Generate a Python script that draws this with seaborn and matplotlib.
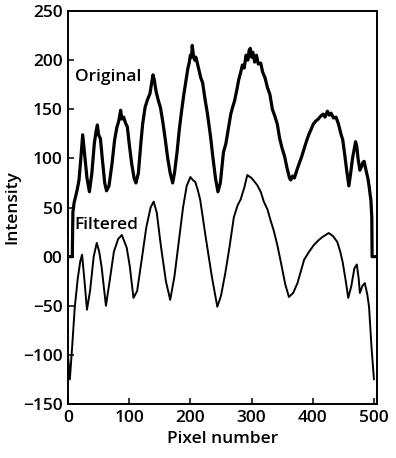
import matplotlib
matplotlib.use("Agg")
import matplotlib.pyplot as plt
import seaborn as sns
import pandas as pd

# Original (noisy) profile
orig_x = [0, 7, 8, 10, 12, 15, 18, 21, 24, 27, 31, 35, 39, 43, 46, 48, 50, 53, 56, 60, 63, 67, 72, 76, 80, 83, 86, 88, 91, 94, 97, 100, 104, 108, 111, 115, 119, 122, 126, 130, 134, 137, 139, 141, 144, 148, 151, 155, 159, 163, 167, 171, 174, 178, 182, 186, 190, 193, 196, 198, 200, 202, 203, 205, 207, 209, 211, 214, 217, 220, 224, 228, 233, 237, 241, 245, 249, 254, 258, 262, 266, 269, 272, 276, 279, 282, 285, 288, 291, 294, 296, 298, 300, 302, 305, 308, 311, 315, 318, 322, 326, 330, 334, 338, 342, 346, 350, 354, 358, 362, 364, 367, 370, 374, 378, 382, 386, 390, 394, 397, 401, 405, 409, 413, 417, 420, 424, 427, 430, 434, 438, 442, 446, 449, 452, 455, 459, 462, 465, 468, 470, 472, 474, 477, 480, 482, 484, 487, 490, 492, 494, 495, 496, 496.5, 497, 503]
orig_y = [0, 0, 45, 55, 60, 68, 78, 100, 124, 105, 80, 66, 85, 115, 128, 134, 124, 120, 100, 75, 67, 72, 95, 118, 132, 138, 149, 140, 142, 136, 132, 115, 95, 80, 75, 85, 115, 135, 152, 160, 166, 178, 185, 180, 168, 158, 152, 137, 119, 100, 85, 75, 85, 105, 130, 150, 168, 180, 192, 197, 205, 203, 215, 205, 200, 203, 198, 190, 182, 177, 160, 145, 122, 100, 80, 66, 75, 106, 115, 130, 145, 152, 158, 170, 180, 187, 195, 192, 205, 200, 210, 212, 203, 208, 198, 205, 196, 197, 188, 182, 172, 165, 150, 143, 135, 120, 110, 102, 90, 80, 78, 82, 80, 88, 95, 102, 110, 118, 125, 129, 135, 138, 140, 143, 145, 142, 148, 144, 146, 141, 142, 135, 125, 119, 105, 90, 72, 85, 100, 110, 117, 112, 100, 88, 92, 96, 97, 88, 80, 72, 62, 58, 45, 40, 0, 0]

# Filtered (smooth) profile
filt_x = [0, 3, 7, 11, 16, 20, 23, 27, 31, 36, 42, 47, 51, 55, 62, 68, 75, 82, 88, 96, 101, 107, 113, 120, 128, 135, 140, 145, 152, 160, 167, 174, 181, 188, 194, 200, 204, 208, 212, 216, 225, 235, 244, 250, 257, 264, 271, 277, 282, 288, 293, 300, 309, 315, 320, 326, 331, 336, 342, 348, 355, 361, 368, 375, 386, 394, 402, 410, 416, 421, 426, 433, 440, 445, 449, 454, 458, 463, 468, 472, 475, 477, 481, 485, 489, 492, 496, 500]
filt_y = [-100, -125, -90, -52, -22, -5, 2, -25, -54, -35, 0, 14, 5, -11, -50, -25, 5, 18, 22, 9, -10, -42, -35, -5, 30, 50, 56, 45, 10, -25, -44, -20, 15, 50, 72, 81, 78, 76, 68, 58, 20, -20, -51, -40, -17, 10, 40, 52, 58, 70, 83, 80, 73, 66, 56, 48, 37, 27, 12, -6, -28, -41, -37, -27, -3, 5, 12, 17, 20, 22, 24, 21, 15, 5, -6, -25, -42, -30, -12, -8, -22, -37, -30, -27, -38, -51, -92, -125]

yticks = [-150, -100, -50, 0, 50, 100, 150, 200, 250]
ytick_labels = ["\u2212150", "\u2212100", "\u221250", "00", "50", "100", "150", "200", "250"]
xticks = [0, 100, 200, 300, 400, 500]
xtick_labels = ["0", "100", "200", "300", "400", "500"]

sns.set_theme(style="white")
plt.rcParams["font.family"] = ["Open Sans", "DejaVu Sans"]
plt.rcParams["font.weight"] = 600

fig = plt.figure(figsize=(3.96, 4.58), dpi=100)
ax = fig.add_axes([68 / 396, 54 / 458, 309 / 396, 393 / 458])

df_o = pd.DataFrame({"x": orig_x, "y": orig_y})
df_f = pd.DataFrame({"x": filt_x, "y": filt_y})
sns.lineplot(data=df_o, x="x", y="y", ax=ax, color="black", linewidth=2.3, estimator=None, sort=False)
sns.lineplot(data=df_f, x="x", y="y", ax=ax, color="black", linewidth=1.4, estimator=None, sort=False)

ax.set_xlim(0, 505)
ax.set_ylim(-150, 250)
ax.set_xticks(xticks)
ax.set_xticklabels(xtick_labels, fontweight=600)
ax.set_yticks(yticks)
ax.set_yticklabels(ytick_labels, fontweight=600)
ax.tick_params(axis="both", direction="in", length=4, width=1.1, colors="black",
               labelsize=12.5, pad=4, left=True, bottom=True)
for s in ax.spines.values():
    s.set_visible(True)
    s.set_color("black")
    s.set_linewidth(1.4)

ax.set_xlabel("Pixel number", fontsize=12.5, color="black", labelpad=4, fontweight=600)
ax.set_ylabel("Intensity", fontsize=12.5, color="black", labelpad=2, fontweight=600)

ax.text(11, 183, "Original", fontsize=12.5, color="black", ha="left", va="center", fontweight=600)
ax.text(10, 32, "Filtered", fontsize=12.5, color="black", ha="left", va="center", fontweight=600)

fig.savefig("out.png", dpi=100)
